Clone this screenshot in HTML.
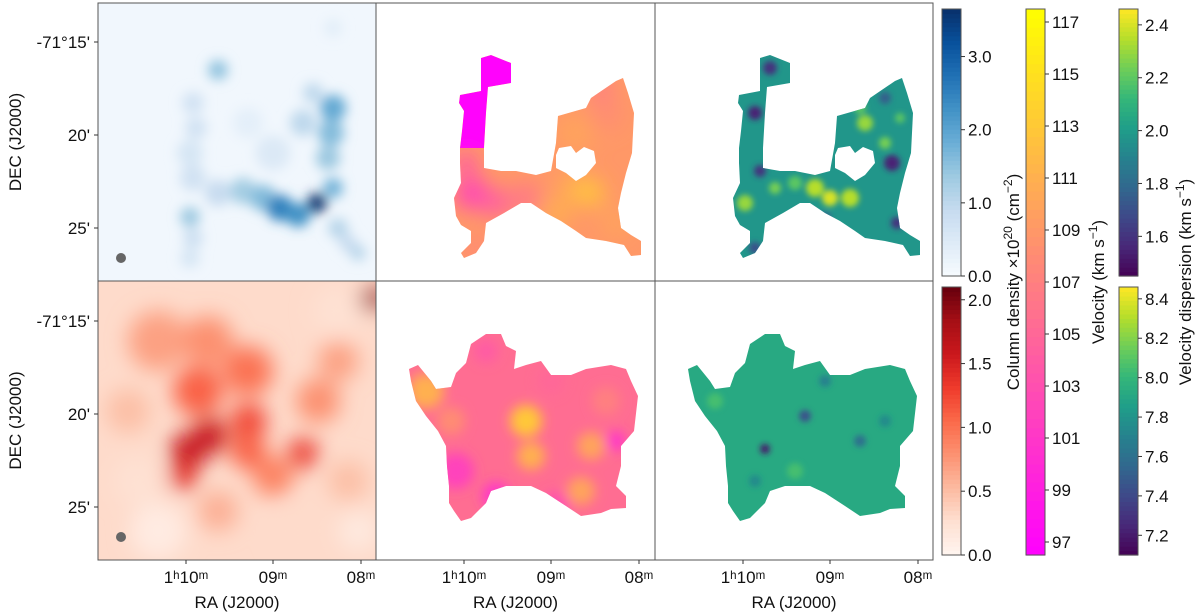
<!DOCTYPE html>
<html><head><meta charset="utf-8">
<style>
html,body{margin:0;padding:0;background:#fff;}
svg{display:block;font-family:"Liberation Sans","DejaVu Sans",sans-serif;}
</style></head>
<body>
<svg id="fig" width="1200" height="612" viewBox="0 0 1200 612" xmlns="http://www.w3.org/2000/svg">
<defs>
<filter id="blurL" x="-50%" y="-50%" width="200%" height="200%"><feGaussianBlur stdDeviation="11"/></filter>
<filter id="blurM" x="-50%" y="-50%" width="200%" height="200%"><feGaussianBlur stdDeviation="6"/></filter>
<filter id="blurS" x="-50%" y="-50%" width="200%" height="200%"><feGaussianBlur stdDeviation="3"/></filter>
</defs>
<g id="root"></g>
</svg>
<script>
// ---------- data ----------
const blueTicks=[0.0,1.0,2.0,3.0];
const redTicks=[0.0,0.5,1.0,1.5,2.0];
const velTicks=[97,99,101,103,105,107,109,111,113,115,117];
const dispTopTicks=[1.6,1.8,2.0,2.2,2.4];
const dispBotTicks=[7.2,7.4,7.6,7.8,8.0,8.2,8.4];
const raTicks=["1ʰ10ᵐ","09ᵐ","08ᵐ"];
const decTicks=["-71°15'","20'","25'"];
// blob arrays: [x, y (panel px), radius, value]
const blueBlobs=[[120,67,9,1.5],[95,100,10,0.7],[98,125,10,0.7],[92,150,12,0.6],[95,175,12,0.7],[92,214,9,1.4],[95,235,9,0.8],[92,255,9,0.6],
 [120,190,12,0.9],[145,188,12,1.3],[165,195,12,1.6],[182,205,12,2.5],[200,212,11,2.3],[219,200,9,3.6],[235,185,9,1.8],
 [235,105,12,1.9],[233,130,12,1.6],[230,155,11,1.4],[205,120,12,1.0],[215,90,9,1.0],[240,225,9,1.1],[250,240,8,0.9],[260,250,7,1.1],
 [175,150,16,0.5],[150,120,14,0.35],[235,25,8,0.4]];
const redBlobs=[[60,60,30,0.7],[110,60,25,0.8],[150,90,25,1.0],[100,110,25,1.1],[90,170,18,1.6],[112,155,18,1.6],[85,195,14,1.4],[150,140,18,1.2],[150,170,18,1.1],[205,172,15,1.35],[175,195,20,0.9],[220,120,22,0.8],[240,80,20,0.7],[120,230,20,0.6],[275,18,12,1.9],[30,130,22,0.5],[250,200,20,0.5],[155,140,14,1.3],[60,250,28,0.12],[260,250,20,0.15],[40,200,25,0.25],[200,250,25,0.3],[240,30,25,0.25]];
const velTopBlobs=[[95,190,16,102],[120,200,14,104],[150,195,14,106],[200,185,16,111],[215,190,12,113.5],[200,130,18,110],[230,110,16,108],[240,220,14,110],[100,245,10,107],[225,85,10,106],[180,210,14,111],[90,160,10,101.5]];
const velBotBlobs=[[50,110,18,111],[75,140,14,108],[150,140,16,113],[155,175,14,111],[215,165,14,110],[205,210,14,110],[80,190,18,102],[120,215,14,101],[180,225,14,103],[240,160,10,101],[110,70,12,104],[175,100,14,105],[230,120,14,107]];
const dispTopBlobs=[[160,185,9,2.35],[175,195,8,2.4],[195,195,9,2.35],[210,120,8,2.3],[90,200,8,2.3],[230,140,6,2.25],[140,180,7,2.2],[120,185,6,2.25],[205,105,6,2.2],[245,115,5,2.2],
 [115,65,7,1.6],[100,110,7,1.55],[237,160,8,1.55],[242,220,6,1.6],[105,168,6,1.6],[100,245,6,1.7],[170,215,6,1.75],[230,95,6,1.75],[130,150,5,1.8]];
const dispBotBlobs=[[110,168,5,7.2],[150,135,6,7.45],[205,160,6,7.6],[140,190,8,8.05],[60,120,8,8.05],[170,100,6,7.7],[100,200,6,7.75],[230,140,6,7.75]];
// masks (panel-local)
const stalkPts=[[105,55],[115,52],[135,60],[135,80],[112,84],[110,110],[108,145],[84,145],[86,128],[88,108],[83,100],[84,92],[105,88]];
const bodyPts=[[84,145],[108,145],[108,165],[125,168],[140,168],[160,172],[175,168],[180,140],[182,113],[210,105],[215,95],[240,78],[247,75],[252,90],[258,110],[256,150],[250,170],[245,190],[242,205],[245,225],[255,232],[265,238],[265,252],[255,253],[248,242],[230,238],[210,235],[200,228],[185,218],[170,210],[155,200],[145,200],[128,210],[110,220],[108,238],[100,250],[88,255],[85,250],[95,240],[95,228],[85,222],[80,213],[78,195],[85,180],[84,160]];
const holePts=[[183,145],[195,143],[200,150],[208,144],[218,148],[220,160],[210,172],[200,178],[190,170],[180,165],[180,152]];
const botPts=[[33,88],[42,84],[55,100],[60,108],[75,106],[80,92],[90,82],[95,63],[110,53],[125,53],[130,65],[140,70],[138,88],[150,84],[165,80],[175,94],[195,94],[210,88],[235,84],[250,88],[255,100],[262,115],[258,150],[245,165],[245,185],[240,205],[250,215],[250,227],[235,228],[225,232],[205,235],[190,225],[170,212],[155,205],[130,205],[115,210],[110,222],[95,237],[85,240],[78,230],[73,222],[73,205],[71,185],[70,165],[62,150],[50,135],[40,120],[35,100]];

// ---------- helpers ----------
const NS="http://www.w3.org/2000/svg";
const root=document.getElementById('root');
function mk(tag,attrs,parent){const e=document.createElementNS(NS,tag);for(const k in attrs)e.setAttribute(k,attrs[k]);(parent||root).appendChild(e);return e;}
function lerp(a,b,t){return a+(b-a)*t;}
function hex(h){return [parseInt(h.slice(1,3),16),parseInt(h.slice(3,5),16),parseInt(h.slice(5,7),16)];}
function cmap(stops,t){t=Math.max(0,Math.min(1,t));const n=stops.length-1;const i=Math.min(n-1,Math.floor(t*n));const f=t*n-i;const a=hex(stops[i]),b=hex(stops[i+1]);return `rgb(${Math.round(lerp(a[0],b[0],f))},${Math.round(lerp(a[1],b[1],f))},${Math.round(lerp(a[2],b[2],f))})`;}
const BLUES=["#f7fbff","#deebf7","#c6dbef","#9ecae1","#6baed6","#4292c6","#2171b5","#08519c","#08306b"];
const REDS=["#fff5f0","#fee0d2","#fcbba1","#fc9272","#fb6a4a","#ef3b2c","#cb181d","#a50f15","#67000d"];
function spring(t){t=Math.max(0,Math.min(1,t));return `rgb(255,${Math.round(255*t)},${Math.round(255-255*t)})`;}
const VIR=["#440154","#482878","#3e4989","#31688e","#26828e","#1f9e89","#35b779","#6ece58","#b5de2b","#fde725"];
const pts=p=>p.map(q=>q.join(',')).join(' ');

const cols=[98,376,655], colW=[278,279,278];
const rows=[3,281], rowH=[278,279];
const blueS={min:0,max:3.65}, redS={min:0,max:2.1}, velS={min:96.5,max:117.5}, dtS={min:1.45,max:2.46}, dbS={min:7.1,max:8.46};

function panel(ci,ri,name){
  const g=mk('g',{transform:`translate(${cols[ci]},${rows[ri]})`});
  
  
  const id='clip'+ci+ri;
  const cp=mk('clipPath',{id},g);mk('rect',{x:0,y:0,width:colW[ci],height:rowH[ri]},cp);
  const inner=mk('g',{'clip-path':`url(#${id})`},g);
  return {g,inner};
}
function blobs(parent,arr,colorFn,filt,scale){
  const bg=mk('g',{filter:`url(#${filt})`},parent);
  arr.forEach(b=>{const c=mk('circle',{cx:b[0],cy:b[1],r:b[2]*(scale||1),fill:colorFn(b[3])},bg);
    
    });
}
function maskedMap(ci,ri,name,polys,base,arr,colorFn,filt,hole,extraFill){
  const p=panel(ci,ri,name);
  const cid='m'+ci+ri;
  const cp=mk('clipPath',{id:cid},p.g);
  polys.forEach(pp=>mk('polygon',{points:pts(pp)},cp));
  const m=mk('g',{'clip-path':`url(#${cid})`},p.inner);
  mk('rect',{x:0,y:0,width:280,height:280,fill:base},m);
  if(extraFill) extraFill(m);
  blobs(m,arr,colorFn,filt);
  if(hole){mk('polygon',{points:pts(hole),fill:'#fff'},p.inner);}
  return p;
}
function frame(ci,ri){mk('rect',{x:cols[ci],y:rows[ri],width:colW[ci],height:rowH[ri],fill:'none',stroke:'#555','stroke-width':1});}

{const p=panel(0,0,'hi-column-density-map');
 mk('rect',{x:0,y:0,width:280,height:280,fill:cmap(BLUES,0.03)},p.inner);
 blobs(p.inner,blueBlobs,v=>cmap(BLUES,v/blueS.max),'blurM',1.1);
 const b=mk('circle',{cx:23,cy:255,r:5,fill:'#666'},p.inner);
 }
{const p=panel(0,1,'co-column-density-map');
 mk('rect',{x:0,y:0,width:280,height:280,fill:cmap(REDS,0.3/redS.max)},p.inner);
 blobs(p.inner,redBlobs,v=>cmap(REDS,v/redS.max),'blurL',1.0);
 const b=mk('circle',{cx:23,cy:256,r:5,fill:'#666'},p.inner);
 }
maskedMap(1,0,'hi-velocity-map',[stalkPts,bodyPts],spring((109-velS.min)/(velS.max-velS.min)),velTopBlobs,v=>spring((v-velS.min)/(velS.max-velS.min)),'blurL',holePts,
 m=>{mk('polygon',{points:pts(stalkPts),fill:spring(0.01)},m);});
maskedMap(1,1,'co-velocity-map',[botPts],spring((105.5-velS.min)/(velS.max-velS.min)),velBotBlobs,v=>spring((v-velS.min)/(velS.max-velS.min)),'blurM',null);
maskedMap(2,0,'hi-dispersion-map',[stalkPts,bodyPts],cmap(VIR,(1.98-dtS.min)/(dtS.max-dtS.min)),dispTopBlobs,v=>cmap(VIR,(v-dtS.min)/(dtS.max-dtS.min)),'blurS',holePts);
maskedMap(2,1,'co-dispersion-map',[botPts],cmap(VIR,(7.92-dbS.min)/(dbS.max-dbS.min)),dispBotBlobs,v=>cmap(VIR,(v-dbS.min)/(dbS.max-dbS.min)),'blurS',null);

for(let c=0;c<3;c++)for(let r=0;r<2;r++)frame(c,r);

const FS=17;
function txt(x,y,s,attrs,name){const t=mk('text',Object.assign({x,y,'font-size':FS,fill:'#111'},attrs||{}));t.textContent=s;return t;}
const decY=[[42,135,228],[321,414,507]];
decTicks.forEach((s,i)=>{for(let r=0;r<2;r++){const y=decY[r][i];mk('line',{x1:94,x2:98,y1:y,y2:y,stroke:'#333'});txt(90,y+6,s,{'text-anchor':'end'},'dec-tick-label');}});
for(let r=0;r<2;r++)txt(21,rows[r]+rowH[r]/2,'DEC (J2000)',{'text-anchor':'middle',transform:`rotate(-90 21 ${rows[r]+rowH[r]/2})`},'y-axis-title');
const raX=[186,273,361];
for(let c=0;c<3;c++){raTicks.forEach((s,i)=>{const x=raX[i]+cols[c]-98;mk('line',{x1:x,x2:x,y1:560,y2:564,stroke:'#333'});txt(x,583,s,{'text-anchor':'middle'},'ra-tick-label');});
 txt(cols[c]+colW[c]/2,608,'RA (J2000)',{'text-anchor':'middle'},'x-axis-title');}

function cbar(x,y0,y1,w,colorFn,ticks,vmin,vmax,name){
  const g=mk('g',{});
  const n=60,h=(y1-y0)/n;
  for(let i=0;i<n;i++){mk('rect',{x,y:y1-(i+1)*h,width:w,height:h+0.6,fill:colorFn((i+0.5)/n)},g);}
  mk('rect',{x,y:y0,width:w,height:y1-y0,fill:'none',stroke:'#555','stroke-width':1},g);
  ticks.forEach(t=>{const y=y1-(t-vmin)/(vmax-vmin)*(y1-y0);mk('line',{x1:x+w,x2:x+w+4,y1:y,y2:y,stroke:'#333'},g);
    const lab=vmax>50?String(t):t.toFixed(1);txt(x+w+7,y+6,lab,{},'colorbar-tick-label');});
}
cbar(942,9,276,19,t=>cmap(BLUES,t),blueTicks,blueS.min,blueS.max,'colorbar-column-density-hi');
cbar(942,287,555,19,t=>cmap(REDS,t),redTicks,redS.min,redS.max,'colorbar-column-density-co');
cbar(1026,9,555,19,t=>spring(t),velTicks,velS.min,velS.max,'colorbar-velocity');
cbar(1119,9,276,19,t=>cmap(VIR,t),dispTopTicks,dtS.min,dtS.max,'colorbar-dispersion-hi');
cbar(1119,287,555,19,t=>cmap(VIR,t),dispBotTicks,dbS.min,dbS.max,'colorbar-dispersion-co');

function rotLabel(x,y,html,name){const t=mk('text',{x,y,'font-size':FS,fill:'#111','text-anchor':'middle',transform:`rotate(-90 ${x} ${y})`});t.innerHTML=html;}
rotLabel(1019,282,'Column density ×10<tspan font-size="12" dy="-7">20</tspan><tspan dy="7"> (cm</tspan><tspan font-size="12" dy="-7">−2</tspan><tspan dy="7">)</tspan>','colorbar-title-column-density');
rotLabel(1104,282,'Velocity (km s<tspan font-size="12" dy="-7">−1</tspan><tspan dy="7">)</tspan>','colorbar-title-velocity');
rotLabel(1191,282,'Velocity dispersion (km s<tspan font-size="12" dy="-7">−1</tspan><tspan dy="7">)</tspan>','colorbar-title-dispersion');
</script>
</body></html>
